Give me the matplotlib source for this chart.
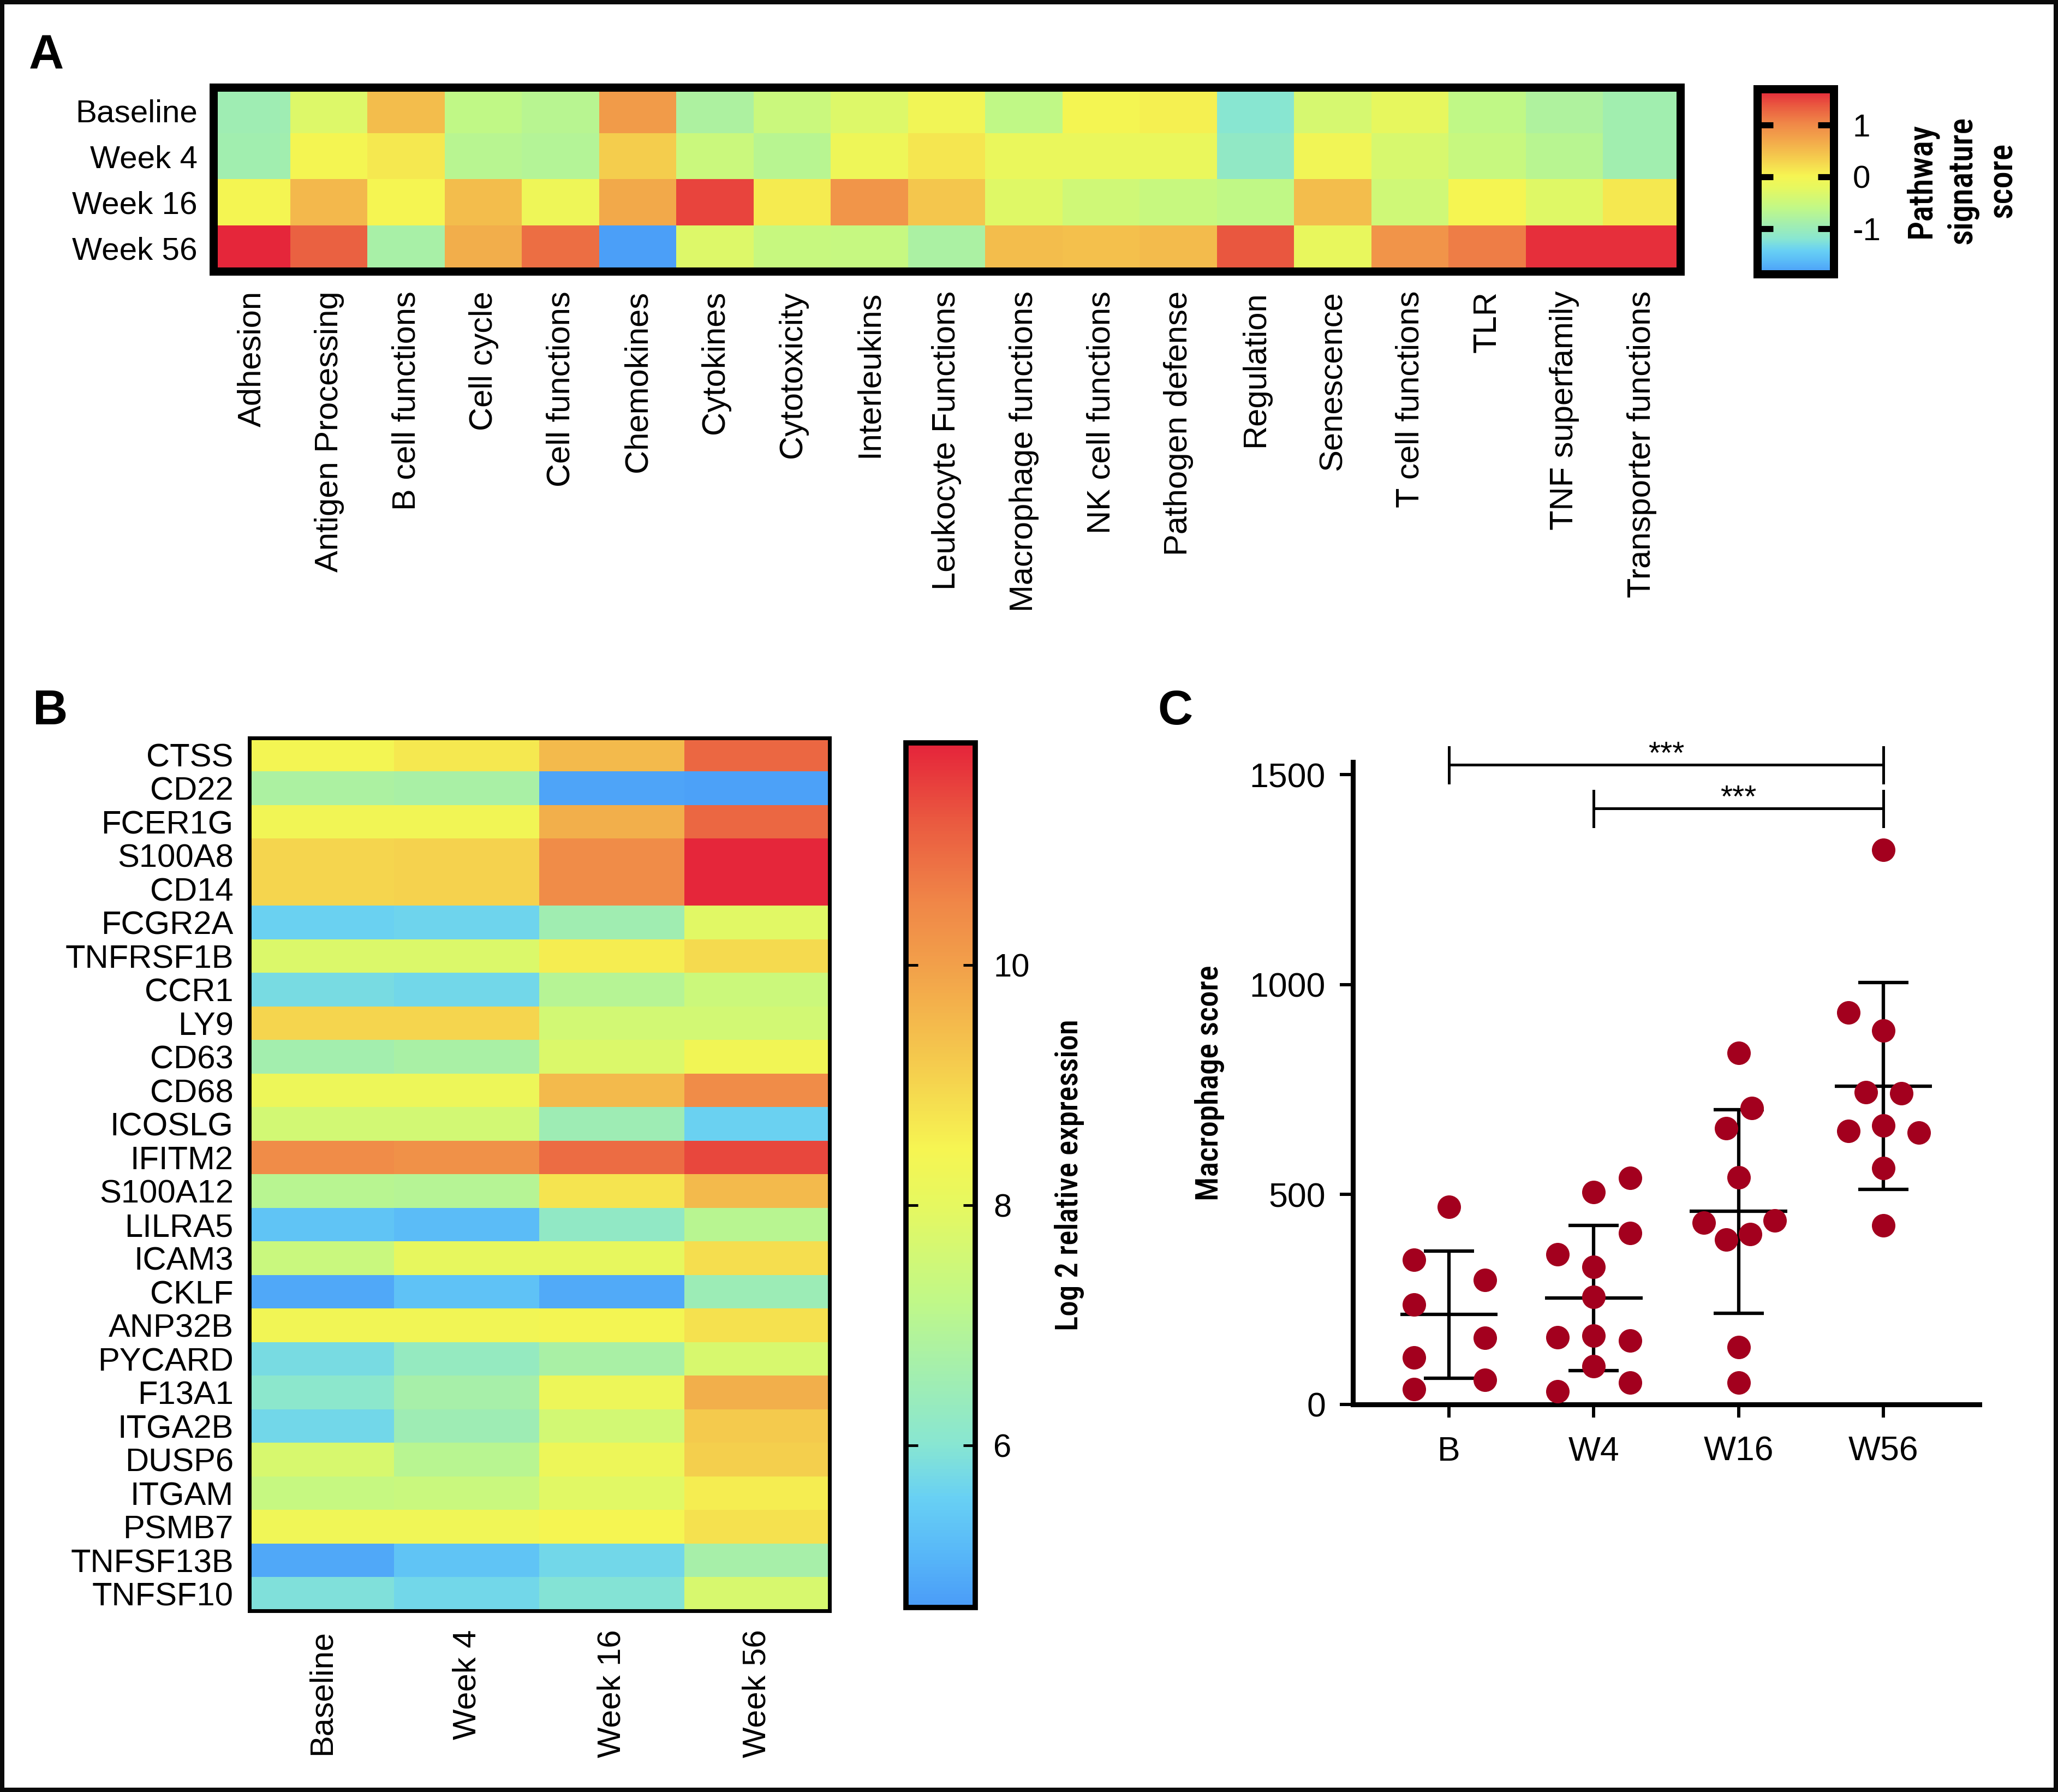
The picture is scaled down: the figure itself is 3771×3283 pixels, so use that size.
import numpy as np
import matplotlib
matplotlib.use("Agg")
import matplotlib.pyplot as plt
from matplotlib.colors import LinearSegmentedColormap, Normalize
from matplotlib.cm import ScalarMappable
from matplotlib.patches import Rectangle

plt.rcParams['font.family'] = 'Liberation Sans'
plt.rcParams['axes.unicode_minus'] = False
NARROW = ['Roboto Condensed', 'Liberation Sans']

# ---- panel A data: pathway signature scores ----
timepoints = ["Baseline", "Week 4", "Week 16", "Week 56"]
pathways = ["Adhesion", "Antigen Processing", "B cell functions", "Cell cycle",
            "Cell functions", "Chemokines", "Cytokines", "Cytotoxicity",
            "Interleukins", "Leukocyte Functions", "Macrophage functions",
            "NK cell functions", "Pathogen defense", "Regulation", "Senescence",
            "T cell functions", "TLR", "TNF superfamily", "Transporter functions"]
score_baseline = [-0.95, -0.3, 0.5, -0.6, -0.68, 0.82, -0.8, -0.5, -0.3, -0.05,
                  -0.6, 0.0, 0.05, -1.2, -0.38, -0.2, -0.6, -0.78, -0.92]
score_week4 = [-0.92, 0.0, 0.12, -0.68, -0.72, 0.35, -0.5, -0.68, -0.1, 0.14,
               -0.15, -0.15, -0.15, -1.1, -0.05, -0.36, -0.53, -0.68, -0.92]
score_week16 = [0.0, 0.55, 0.02, 0.5, -0.1, 0.68, 1.5, 0.1, 0.88, 0.42,
                -0.28, -0.45, -0.53, -0.6, 0.5, -0.45, 0.02, -0.28, 0.12]
score_week56 = [1.68, 1.32, -0.85, 0.64, 1.22, -1.85, -0.3, -0.53, -0.55, -0.82,
                0.5, 0.47, 0.52, 1.38, -0.18, 0.9, 1.1, 1.62, 1.62]

# ---- panel B data: log2 expression per gene (Baseline, W4, W16, W56) ----
genes = ["CTSS", "CD22", "FCER1G", "S100A8", "CD14", "FCGR2A", "TNFRSF1B", "CCR1",
         "LY9", "CD63", "CD68", "ICOSLG", "IFITM2", "S100A12", "LILRA5", "ICAM3",
         "CKLF", "ANP32B", "PYCARD", "F13A1", "ITGA2B", "DUSP6", "ITGAM", "PSMB7",
         "TNFSF13B", "TNFSF10"]
expr_baseline = [8.4, 6.8, 8.35, 9.0, 9.0, 5.6, 7.8, 5.8, 9.0, 6.6, 8.2, 7.6, 10.4,
                 7.05, 5.35, 7.4, 4.85, 8.35, 5.8, 6.1, 5.7, 7.7, 7.35, 8.3, 4.85, 5.9]
expr_week4 = [8.7, 6.75, 8.35, 9.05, 9.05, 5.65, 7.8, 5.7, 9.0, 6.75, 8.2, 7.6, 10.3,
              7.0, 5.2, 8.05, 5.3, 8.35, 6.3, 6.7, 6.5, 7.05, 7.4, 8.3, 5.35, 5.7]
expr_week16 = [9.5, 4.8, 9.7, 10.4, 10.4, 6.55, 8.6, 7.0, 7.6, 7.8, 9.5, 6.5, 10.9,
               8.75, 6.2, 8.05, 4.9, 8.4, 6.75, 8.2, 7.6, 8.2, 7.9, 8.45, 5.7, 5.95]
expr_week56 = [11.0, 4.75, 11.0, 11.8, 11.8, 7.9, 8.9, 7.45, 7.6, 8.35, 10.4, 5.6,
               11.4, 9.5, 7.05, 8.85, 6.45, 8.8, 7.7, 9.7, 9.2, 9.1, 8.6, 8.8, 6.7, 7.7]

# ---- panel C data: macrophage score per patient ----
groups_c = ["B", "W4", "W16", "W56"]
mac_b = [471, 344, 296, 238, 158, 112, 58, 36]
mac_w4 = [506, 539, 408, 358, 328, 256, 160, 164, 152, 91, 52, 31]
mac_w16 = [837, 706, 658, 541, 433, 438, 392, 405, 137, 52]
mac_w56 = [1321, 933, 891, 743, 741, 651, 664, 648, 563, 427]
# horizontal scatter offsets of the dots inside each group
off_b = [0, -0.24, 0.25, -0.24, 0.25, -0.24, 0.25, -0.24]
off_w4 = [0, 0.25, 0.25, -0.25, 0, 0, -0.25, 0, 0.25, 0, 0.25, -0.25]
off_w16 = [0, 0.09, -0.085, 0, -0.24, 0.25, -0.085, 0.08, 0, 0]
off_w56 = [0, -0.24, 0, -0.12, 0.125, -0.24, 0, 0.245, 0, 0]
# significance brackets: (from group, to group, height)
brackets = [(0, 3, 1523), (1, 3, 1419)]

W, H = 3771, 3283


def box(x, y, w, h):
    return [x / W, 1 - (y + h) / H, w / W, h / H]


cmap = LinearSegmentedColormap.from_list("sig", [
    (0.0, "#4a9cf8"), (0.0625, "#58b8f8"), (0.125, "#68d0f4"), (0.1875, "#88e6d2"),
    (0.285, "#a8f0a8"), (0.354, "#c0f888"), (0.465, "#e6f860"), (0.53, "#f6f552"),
    (0.618, "#f5d04e"), (0.743, "#f2a04a"), (0.813, "#f08848"), (0.91, "#ea5a40"),
    (1.0, "#e5243a")])

fig = plt.figure(figsize=(W / 100, H / 100), dpi=100)

# ---------------- A ----------------
normA = Normalize(-1.88, 1.7)
scoreA = np.array([score_baseline, score_week4, score_week16, score_week56])
axA = fig.add_axes(box(391, 160, 2688, 337))
axA.imshow(scoreA, cmap=cmap, norm=normA, aspect='auto', interpolation='nearest')
axA.set_xticks(range(len(pathways)), pathways, rotation=90, fontsize=43)
axA.set_yticks(range(len(timepoints)), timepoints, fontsize=42)
axA.tick_params(axis='x', length=0, pad=26)
axA.tick_params(axis='y', length=0, pad=21)
for s in axA.spines.values():
    s.set_linewidth(10.8)

caxA = fig.add_axes(box(3220, 163, 140, 339))
cbA = fig.colorbar(ScalarMappable(norm=normA, cmap=cmap), cax=caxA, ticks=[-1, 0, 1])
cbA.ax.set_yticklabels(['-1', '0', '1'])
cbA.outline.set_linewidth(10.8)
cbA.ax.tick_params(direction='in', left=True, right=True, length=21, width=8,
                   labelsize=42, pad=25)
fig.text(3595 / W, 1 - 330 / H, "Pathway\nsignature\nscore", rotation=90,
         ha='center', va='center', multialignment='center', fontsize=45,
         family=NARROW, fontweight=500, linespacing=1.3)

# ---------------- B ----------------
normB = Normalize(4.65, 11.85)
exprB = np.array([expr_baseline, expr_week4, expr_week16, expr_week56]).T
axB = fig.add_axes(box(457, 1352, 1063, 1599))
axB.imshow(exprB, cmap=cmap, norm=normB, aspect='auto', interpolation='nearest')
axB.set_xticks(range(len(timepoints)), timepoints, rotation=90, fontsize=43)
axB.set_yticks(range(len(genes)), genes, fontsize=43)
axB.tick_params(axis='x', length=0, pad=25)
axB.tick_params(axis='y', length=0, pad=21)
for s in axB.spines.values():
    s.set_linewidth(5)

caxB = fig.add_axes(box(1660, 1361, 127, 1584))
cbB = fig.colorbar(ScalarMappable(norm=normB, cmap=cmap), cax=caxB, ticks=[6, 8, 10])
cbB.outline.set_linewidth(7)
cbB.ax.tick_params(direction='in', left=True, right=True, length=16, width=3.5,
                   labelsize=43, pad=24)
fig.text(1960 / W, 1 - 2153 / H, "Log 2 relative expression", rotation=90,
         ha='center', va='center', fontsize=41, family=NARROW, fontweight=500)

# ---------------- C ----------------
axC = fig.add_axes(box(2479, 1396, 1148, 1177))
dot = '#a3001e'
for i, (vals, off) in enumerate(zip([mac_b, mac_w4, mac_w16, mac_w56],
                                    [off_b, off_w4, off_w16, off_w56])):
    vals = np.array(vals)
    m = vals.mean()
    sd = vals.std(ddof=1)
    axC.plot([i - 0.337, i + 0.337], [m, m], color='k', lw=4.5, solid_capstyle='butt', zorder=2)
    axC.plot([i, i], [m - sd, m + sd], color='k', lw=4.5, solid_capstyle='butt', zorder=2)
    for y in (m - sd, m + sd):
        axC.plot([i - 0.173, i + 0.173], [y, y], color='k', lw=4.5, solid_capstyle='butt', zorder=2)
    axC.plot(i + np.array(off), vals, 'o', ms=31, color=dot, mec='none', zorder=3, clip_on=False)

for a, b, y in brackets:
    axC.plot([a, b], [y, y], color='k', lw=3.6, clip_on=False)
    for xx in (a, b):
        axC.plot([xx, xx], [y - 42, y + 42], color='k', lw=3.6, clip_on=False)
    axC.text((a + b) / 2, y + 4, "***", ha='center', va='baseline', fontsize=41)

axC.set_xlim(-0.663, 3.663)
axC.set_ylim(0, 1530)
axC.set_xticks(range(4), groups_c)
axC.set_yticks([0, 500, 1000, 1500])
axC.spines['top'].set_visible(False)
axC.spines['right'].set_visible(False)
axC.spines['left'].set_linewidth(6.5)
axC.spines['bottom'].set_linewidth(6.5)
axC.tick_params(length=17, width=4.3, labelsize=45)
axC.tick_params(axis='y', pad=19)
axC.tick_params(axis='x', pad=24)
fig.text(2217 / W, 1 - 1984 / H, "Macrophage score", rotation=90,
         ha='center', va='center', fontsize=42, family=NARROW, fontweight=500)

# panel letters
for letter, x, y in [("A", 53, 62), ("B", 60, 1262), ("C", 2121, 1262)]:
    fig.text(x / W, 1 - y / H, letter, fontsize=64, fontweight='bold', ha='left', va='top')

fig.patches.append(Rectangle((0, 0), 1, 1, transform=fig.transFigure, fill=False,
                             lw=11.5, ec='#0a0a0a'))

fig.savefig("out.png", dpi=100)
